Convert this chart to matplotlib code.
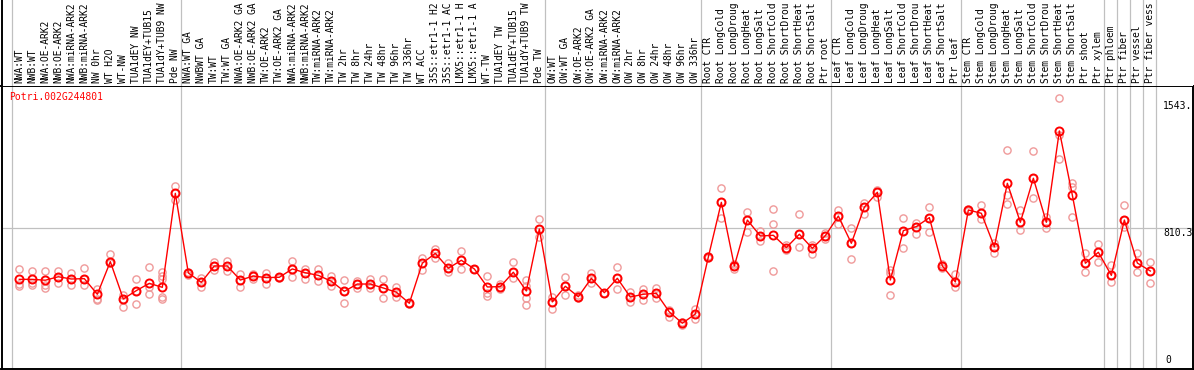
import numpy as np
import matplotlib
matplotlib.use('Agg')
import matplotlib.pyplot as plt

gene_id = 'Potri.002G244801'

labels = [
    'NWA:WT', 'NWB:WT', 'NWA:OE-ARK2', 'NWB:OE-ARK2', 'NWA:miRNA-ARK2', 'NWB:miRNA-ARK2',
    'NW 0hr', 'WT H2O', 'WT-NW', 'TUA1dEY NW', 'TUA1dEY+TUB15 NW', 'TUA1dY+TUB9 NW', 'Pde NW',
    'NWA:WT GA', 'NWBWT GA', 'TW:WT', 'TW:WT GA', 'NWA:OE-ARK2 GA', 'NWB:OE-ARK2 GA',
    'TW:OE-ARK2', 'TW:OE-ARK2 GA', 'NWA:miRNA-ARK2 GA', 'NWB:miRNA-ARK2 GA', 'TW:miRNA-ARK2',
    'TW:miRNA-ARK2 GA', 'TW 2hr', 'TW 8hr', 'TW 24hr', 'TW 48hr', 'TW 96hr', 'TW 336hr',
    'WT ACC', '35S::etr1-1 H2O', '35S::etr1-1 ACC', 'LMX5::etr1-1 H2O', 'LMX5::etr1-1 ACC',
    'WT-TW', 'TUA1dEY TW', 'TUA1dEY+TUB15 TW', 'TUA1dY+TUB9 TW', 'Pde TW',
    'OW:WT', 'OW:WT GA', 'OW:OE-ARK2', 'OW:OE-ARK2 GA', 'OW:miRNA-ARK2', 'OW:miRNA-ARK2 GA',
    'OW 2hr', 'OW 8hr', 'OW 24hr', 'OW 48hr', 'OW 96hr', 'OW 336hr',
    'Root CTR', 'Root LongCold', 'Root LongDrought', 'Root LongHeat', 'Root LongSalt',
    'Root ShortCold', 'Root ShortDrought', 'Root ShortHeat', 'Root ShortSalt', 'Ptr root',
    'Leaf CTR', 'Leaf LongCold', 'Leaf LongDrought', 'Leaf LongHeat', 'Leaf LongSalt',
    'Leaf ShortCold', 'Leaf ShortDrought', 'Leaf ShortHeat', 'Leaf ShortSalt', 'Ptr leaf',
    'Stem CTR', 'Stem LongCold', 'Stem LongDrought', 'Stem LongHeat', 'Stem LongSalt',
    'Stem ShortCold', 'Stem ShortDrought', 'Stem ShortHeat', 'Stem ShortSalt', 'Ptr shoot',
    'Ptr xylem', 'Ptr phloem', 'Ptr fiber', 'Ptr vessel', 'Ptr fiber vessel',
]

group_sizes = [13, 28, 12, 10, 10, 11, 1, 1, 1, 1]

means = [
    514, 514, 509, 529, 516, 518, 428, 616, 401, 449, 491, 468, 1010,
    551, 497, 591, 591, 510, 533, 524, 526, 574, 552, 537, 503, 445, 487, 487, 464, 440,
    376, 607, 664, 578, 624, 574, 470, 472, 555, 447, 804,
    384, 474, 414, 520, 437, 520, 412, 428, 434, 326, 261, 314,
    643, 958, 591, 856, 764, 768, 697, 774, 693, 766,
    879, 722, 930, 1016, 510, 795, 818, 870, 591, 499,
    914, 895, 702, 1068, 843, 1097, 843, 1370, 999, 607, 670,
    537, 856, 608, 562,
]

replicates = [
    [572, 486, 476], [562, 491, 482], [562, 482, 463], [562, 495, 529], [552, 482, 516],
    [578, 480, 516], [457, 403, 395], [659, 616, 608], [424, 353, 401], [518, 370, 449],
    [584, 472, 428], [558, 533, 514, 414, 399], [1052, 972, 1010],
    [539, 556, 551], [524, 472, 497], [612, 568, 591], [622, 564, 591], [545, 472, 510],
    [545, 514, 533], [552, 486, 524], [526, 522, 530], [620, 526, 574], [576, 518, 552],
    [572, 506, 537], [535, 478, 503], [510, 376, 445], [506, 463, 487], [518, 463, 487],
    [516, 405, 464], [470, 410, 440], [376, 380, 370], [636, 568, 607], [691, 639, 664],
    [607, 556, 578], [679, 572, 624], [574, 574, 574], [533, 434, 420], [487, 457, 472],
    [612, 520, 555], [510, 478, 405, 364], [860, 757, 804],
    [414, 341, 384], [528, 422, 474], [414, 424, 406], [552, 491, 520], [437, 437, 437],
    [585, 457, 520], [443, 385, 412], [460, 395, 428], [464, 406, 434], [299, 326, 337],
    [261, 270, 251], [341, 287, 314],
    [649, 643, 637], [1041, 870, 958], [572, 591, 601], [904, 785, 856], [795, 734, 764],
    [918, 833, 561], [683, 697, 712], [891, 702, 774], [712, 659, 693], [783, 745, 766],
    [914, 832, 879], [808, 631, 722], [953, 889, 930], [1029, 991, 1016], [568, 424, 551],
    [866, 693, 795], [841, 776, 818], [930, 785, 870], [603, 580, 591], [545, 468, 499],
    [914, 908, 920], [941, 860, 895], [722, 664, 702], [1260, 1001, 947], [914, 799, 843],
    [1254, 982, 1097], [875, 812, 843], [1558, 1347, 1206], [1068, 1045, 875],
    [664, 558, 607], [716, 616, 670], [597, 501, 537], [941, 818, 856], [664, 555, 608],
    [616, 491, 562],
]

y_marks = [0, 810.3, 1543.]
y_text = ['0', '810.3', '1543.']

# header only has room for this many characters
max_chars = 14

W, H = 1194, 370
fig = plt.figure(figsize=(W / 100, H / 100), dpi=100)
plt.rcParams['font.family'] = 'DejaVu Sans Mono'

left = 1.5 / W
width = (1193 - 1.5) / W
bottom = 1.0 / H
top = (H - 86) / H

xlim = (-1.37, 90.28)
ylim = (-3, 1629)
grid_c = '#c0c0c0'

# group separators
starts = np.concatenate([[0], np.cumsum(group_sizes)])
seps = starts - 0.6

# main plot
ax = fig.add_axes([left, bottom, width, top - bottom])
ax.set_xlim(*xlim)
ax.set_ylim(*ylim)
ax.set_xticks([])
ax.set_yticks([])
for s in ax.spines.values():
    s.set_linewidth(1.4)
    s.set_color('black')

for s in seps:
    ax.axvline(s, color=grid_c, lw=0.9, zorder=1)
ax.axhline(y_marks[1], color=grid_c, lw=0.9, zorder=1)

x = np.arange(len(means))
for i, reps in enumerate(replicates):
    ax.plot([i] * len(reps), reps, 'o', mfc='none', mec='#ef9a9a', ms=5.2, mew=1.0, zorder=2)
ax.plot(x, means, '-', color='red', lw=1.0, zorder=3)
ax.plot(x, means, 'o', mfc='none', mec='red', ms=5.8, mew=1.4, zorder=4)

ax.text(0.0065, 0.979, gene_id, transform=ax.transAxes, color='red',
        fontsize=7.0, ha='left', va='top')

ax.text(88.0, y_marks[2], y_text[2], fontsize=7.0, ha='left', va='top')
ax.text(88.0, y_marks[1], y_text[1], fontsize=7.0, ha='left', va='top')
ax.text(88.15, 18, y_text[0], fontsize=7.0, ha='left', va='bottom')

# header with sample names
hax = fig.add_axes([left, top, width, 1 - top])
hax.set_xlim(*xlim)
hax.set_ylim(0, 1)
hax.set_xticks([])
hax.set_yticks([])
for k, s in hax.spines.items():
    s.set_visible(k == 'left')
hax.spines['left'].set_linewidth(1.4)
for s in seps:
    hax.axvline(s, color=grid_c, lw=0.9)
for i, lab in enumerate(labels):
    hax.text(i, 0.035, lab[:max_chars].rstrip(), rotation=90, fontsize=6.9,
             ha='center', va='bottom')

plt.savefig('out.png', dpi=100)
